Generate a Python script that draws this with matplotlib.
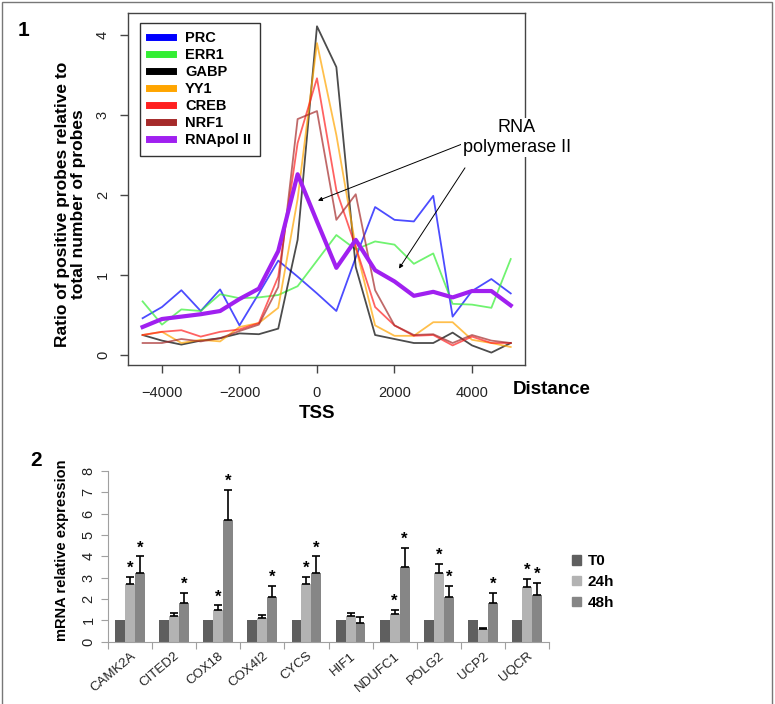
import numpy as np
import matplotlib
matplotlib.use('Agg')
import matplotlib.pyplot as plt
from matplotlib.lines import Line2D
from matplotlib.patches import Rectangle, Patch

plt.rcParams['font.family'] = ['Liberation Sans', 'DejaVu Sans']

# --- panel 1 data: ratio of positive probes vs distance to TSS ---
dist = [-4500, -4000, -3500, -3000, -2500, -2000, -1500, -1000, -500, 0,
        500, 1000, 1500, 2000, 2500, 3000, 3500, 4000, 4500, 5000]
prc   = [0.46, 0.60, 0.81, 0.55, 0.82, 0.37, 0.77, 1.18, 0.98, 0.77,
         0.55, 1.22, 1.85, 1.69, 1.67, 1.99, 0.48, 0.80, 0.95, 0.77]
err1  = [0.67, 0.38, 0.57, 0.55, 0.76, 0.71, 0.72, 0.75, 0.86, 1.18,
         1.50, 1.32, 1.42, 1.38, 1.14, 1.27, 0.64, 0.63, 0.59, 1.20]
gabp  = [0.25, 0.18, 0.13, 0.18, 0.21, 0.27, 0.26, 0.33, 1.44, 4.11,
         3.60, 1.10, 0.25, 0.20, 0.15, 0.15, 0.28, 0.12, 0.03, 0.15]
yy1   = [0.25, 0.29, 0.15, 0.19, 0.17, 0.35, 0.40, 0.59, 1.95, 3.90,
         2.75, 1.35, 0.37, 0.24, 0.24, 0.41, 0.41, 0.19, 0.15, 0.10]
creb  = [0.25, 0.29, 0.31, 0.23, 0.29, 0.32, 0.40, 0.98, 2.65, 3.46,
         2.06, 1.35, 0.60, 0.37, 0.24, 0.25, 0.12, 0.23, 0.15, 0.15]
nrf1  = [0.15, 0.15, 0.20, 0.17, 0.21, 0.30, 0.38, 0.85, 2.95, 3.05,
         1.69, 2.01, 0.81, 0.37, 0.25, 0.26, 0.15, 0.25, 0.18, 0.15]
rnapol = [0.35, 0.45, 0.48, 0.51, 0.55, 0.70, 0.83, 1.30, 2.26, 1.67,
          1.09, 1.44, 1.06, 0.92, 0.74, 0.79, 0.72, 0.80, 0.80, 0.62]

line_names  = ['PRC', 'ERR1', 'GABP', 'YY1', 'CREB', 'NRF1', 'RNApol II']
line_colors = ['#0000ff', '#33ee33', '#000000', '#ffa500', '#ff2020', '#a52a2a', '#a020f0']

# --- panel 2 data: mRNA relative expression ---
genes = ['CAMK2A', 'CITED2', 'COX18', 'COX4I2', 'CYCS', 'HIF1', 'NDUFC1', 'POLG2', 'UCP2', 'UQCR']
t0      = [1, 1, 1, 1, 1, 1, 1, 1, 1, 1]
h24     = [2.70, 1.20, 1.50, 1.10, 2.70, 1.20, 1.28, 3.20, 0.58, 2.58]
h48     = [3.20, 1.80, 5.70, 2.10, 3.20, 0.88, 3.52, 2.10, 1.80, 2.20]
h24_err = [0.35, 0.15, 0.20, 0.13, 0.35, 0.15, 0.20, 0.43, 0.08, 0.36]
h48_err = [0.80, 0.47, 1.42, 0.50, 0.80, 0.27, 0.86, 0.53, 0.48, 0.55]
h24_sig = [1, 0, 1, 0, 1, 0, 1, 1, 0, 1]
h48_sig = [1, 1, 1, 1, 1, 0, 1, 1, 1, 1]

fig = plt.figure(figsize=(7.75, 7.04), dpi=100)
fig.patches.append(Rectangle((2/775, -0.01), 770/775, 1.0 - 2/704 + 0.01,
                             transform=fig.transFigure, fill=False,
                             edgecolor='#777777', lw=1.0))

# ---------------- panel 1 ----------------
ax1 = fig.add_axes([128/775, 1 - 365/704, 397/775, 352.3/704])
series = [prc, err1, gabp, yy1, creb, nrf1]
for vals, col in zip(series, line_colors[:6]):
    ax1.plot(dist, vals, color=col, lw=1.3, alpha=0.7)
ax1.plot(dist, rnapol, color=line_colors[6], lw=3.0)

ax1.set_xlim(-4877, 5368)
ax1.set_ylim(-0.125, 4.28)
ax1.set_xticks([-4000, -2000, 0, 2000, 4000])
ax1.set_yticks([0, 1, 2, 3, 4])
ax1.tick_params(axis='both', direction='out', length=6, width=1, color='#444444',
                labelsize=10.5, labelcolor='#222222')
ax1.tick_params(axis='x', pad=9)
ax1.tick_params(axis='y', pad=7)
for lab in ax1.get_yticklabels():
    lab.set_rotation(90)
    lab.set_va('center')
for sp in ax1.spines.values():
    sp.set_color('#444444')
    sp.set_linewidth(1.0)

ax1.set_ylabel('Ratio of positive probes relative to\ntotal number of probes',
               fontsize=12.5, fontweight='bold', linespacing=1.1)
ax1.yaxis.set_label_coords(-0.106, 0.457)
ax1.text(0, (365 - 414) / 352.3, 'TSS', transform=ax1.get_xaxis_transform(),
         ha='center', va='center', fontsize=13.5, fontweight='bold')
ax1.text(513, 704 - 389, 'Distance', transform=None, va='center',
         fontsize=13.5, fontweight='bold')

handles = [Line2D([], [], color=c, lw=5) for c in line_colors]
leg = ax1.legend(handles, line_names, loc='upper left', bbox_to_anchor=(0.03, 0.972),
                 borderaxespad=0, fancybox=False, edgecolor='black',
                 prop={'weight': 'bold', 'size': 10.5}, handlelength=1.7,
                 handletextpad=0.8, labelspacing=0.2, borderpad=0.6)
leg.get_frame().set_linewidth(1.0)

ax1.annotate('RNA\npolymerase II', xy=(25, 1.93), xytext=(5161, 2.72),
             ha='center', va='center', fontsize=13, linespacing=1.2,
             annotation_clip=False, zorder=10,
             bbox=dict(facecolor='white', edgecolor='none', pad=1),
             arrowprops=dict(arrowstyle='-|>', color='black', lw=0.7,
                             mutation_scale=6, shrinkA=0, shrinkB=0,
                             relpos=(0.0, 0.33)))
ax1.annotate('', xy=(2116, 1.08), xytext=(3819, 2.34), annotation_clip=False,
             arrowprops=dict(arrowstyle='-|>', color='black', lw=0.7,
                             mutation_scale=6, shrinkA=0, shrinkB=0))

fig.text(18/775, 1 - 30/704, '1', fontsize=15, fontweight='bold', va='center')

# ---------------- panel 2 ----------------
ax2 = fig.add_axes([108/775, 1 - 641.7/704, 441/775, 170.7/704])
x = np.arange(len(genes))
w = 0.225
err_kw = dict(ecolor='black', elinewidth=1.2, capsize=3, capthick=1.2)
zeros = np.zeros(len(genes))
ax2.bar(x - w, t0, w, color='#5f5f5f', label='T0')
ax2.bar(x, h24, w, color='#b3b3b3', label='24h',
        yerr=[zeros, h24_err], error_kw=err_kw)
ax2.bar(x + w, h48, w, color='#868686', label='48h',
        yerr=[zeros, h48_err], error_kw=err_kw)

for i in range(len(genes)):
    if h24_sig[i]:
        ax2.text(x[i], h24[i] + h24_err[i] + 0.05, '*', ha='center', va='bottom',
                 fontsize=12, fontweight='bold')
    if h48_sig[i]:
        ax2.text(x[i] + w, h48[i] + h48_err[i] + 0.05, '*', ha='center', va='bottom',
                 fontsize=12, fontweight='bold')

ax2.set_xlim(-0.5, len(genes) - 0.5)
ax2.set_ylim(0, 8)
ax2.set_yticks(range(0, 9))
ax2.set_xticks(np.arange(-0.5, len(genes), 1.0), minor=False)
ax2.set_xticklabels([])
ax2.set_xticks(x, minor=True)
ax2.set_xticklabels(genes, minor=True, rotation=40, ha='right', rotation_mode='anchor',
                    fontsize=9.5, color='#222222')
ax2.tick_params(axis='x', which='major', direction='out', length=5, color='#a0a0a0')
ax2.tick_params(axis='x', which='minor', length=0, pad=6)
ax2.tick_params(axis='y', direction='out', length=5, color='#a0a0a0',
                labelsize=10.5, labelcolor='#222222', pad=4)
for lab in ax2.get_yticklabels():
    lab.set_rotation(90)
    lab.set_va('center')
for s in ['top', 'right']:
    ax2.spines[s].set_visible(False)
for s in ['left', 'bottom']:
    ax2.spines[s].set_color('#a0a0a0')
ax2.set_ylabel('mRNA relative expression', fontsize=10.5, fontweight='bold')
ax2.yaxis.set_label_coords(-0.088, 0.537)

fig.legend([Patch(color='#5f5f5f'), Patch(color='#b3b3b3'), Patch(color='#868686')],
           ['T0', '24h', '48h'], loc='upper left', bbox_to_anchor=(566/775, 1 - 548/704),
           frameon=False, prop={'weight': 'bold', 'size': 11}, handlelength=0.6,
           handleheight=0.6, handletextpad=0.4, labelspacing=0.45, borderaxespad=0)

fig.text(30/775, 1 - 460/704, '2', fontsize=15, fontweight='bold', va='center')

fig.savefig('out.png', dpi=100)
